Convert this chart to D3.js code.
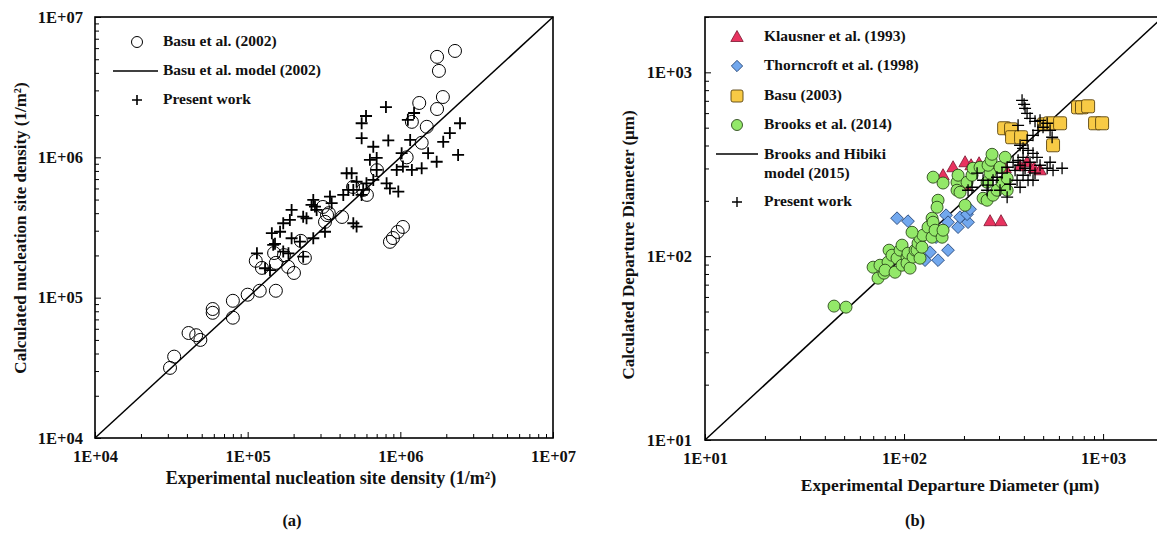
<!DOCTYPE html>
<html>
<head>
<meta charset="utf-8">
<script src="https://cdn.jsdelivr.net/npm/d3@7"></script>
<style>
body { margin: 0; background: #fff; }
svg { display: block; font-family: "Liberation Serif", serif; font-weight: bold; }
</style>
</head>
<body>
<svg id="chart" width="1157" height="534"></svg>
<script>
// ---- (a) nucleation site density, [experimental, calculated] in 1/m2
const basu2002 = [
  [3.1e4, 3.16e4], [3.3e4, 3.8e4], [4.1e4, 5.6e4], [4.6e4, 5.4e4], [4.9e4, 5.0e4],
  [5.9e4, 8.3e4], [5.9e4, 7.8e4], [8.0e4, 9.5e4], [8.0e4, 7.2e4], [1.0e5, 1.05e5],
  [1.2e5, 1.12e5], [1.53e5, 1.12e5], [1.13e5, 1.83e5], [1.24e5, 1.63e5], [1.49e5, 2.08e5],
  [1.53e5, 1.77e5], [1.73e5, 2.01e5], [1.84e5, 1.66e5], [2.01e5, 1.5e5], [2.23e5, 2.54e5],
  [2.37e5, 1.92e5], [3.11e5, 4.43e5], [3.31e5, 3.88e5], [4.15e5, 3.76e5], [3.21e5, 3.47e5],
  [4.9e5, 6.15e5], [6.04e5, 5.4e5], [7.03e5, 8.1e5], [1.1e6, 1.0e6], [1.19e6, 1.79e6],
  [1.49e6, 1.65e6], [1.38e6, 1.27e6], [8.95e5, 2.66e5], [9.6e5, 2.94e5], [1.04e6, 3.19e5],
  [8.55e5, 2.5e5], [1.74e6, 5.2e6], [2.28e6, 5.73e6], [1.79e6, 4.13e6], [1.9e6, 2.69e6],
  [1.74e6, 2.21e6], [1.33e6, 2.44e6], [5.7e5, 5.86e5], [3.4e5, 4.0e5]
];
const presentA = [
  [5.58e5, 1.75e6], [5.58e5, 1.37e6], [6.65e5, 1.19e6], [8.34e5, 1.32e6], [1.16e6, 1.33e6],
  [1.02e6, 1.07e6], [6.32e5, 9.6e5], [7.0e5, 9.9e5], [7.0e5, 8.13e5], [4.45e5, 7.7e5],
  [4.8e5, 7.7e5], [5.17e5, 6.7e5], [6.0e5, 6.53e5], [6.65e5, 6.9e5], [8.13e5, 6.53e5],
  [9.47e5, 8.13e5], [1.04e6, 8.6e5], [1.19e6, 8.13e5], [1.38e6, 8.35e5], [1.52e6, 1.07e6],
  [1.91e6, 1.29e6], [2.11e6, 1.49e6], [2.46e6, 1.75e6], [2.39e6, 1.04e6], [1.73e6, 9.3e5],
  [8.55e5, 6.0e5], [9.7e5, 5.7e5], [4.56e5, 5.86e5], [4.92e5, 5.86e5], [5.71e5, 5.86e5],
  [5.58e5, 5.4e5], [4.23e5, 5.4e5], [3.46e5, 5.25e5], [3.55e5, 4.71e5], [2.69e5, 4.97e5],
  [2.76e5, 4.46e5], [2.62e5, 4.58e5], [2.83e5, 4.22e5], [1.94e5, 4.22e5], [1.89e5, 3.58e5],
  [2.31e5, 3.78e5], [2.43e5, 3.68e5], [1.71e5, 3.39e5], [1.63e5, 2.95e5], [1.44e5, 2.88e5],
  [1.47e5, 2.38e5], [1.94e5, 2.65e5], [1.71e5, 2.13e5], [2.2e5, 2.51e5], [2.31e5, 1.96e5],
  [1.85e5, 2.07e5], [1.15e5, 2.07e5], [1.3e5, 1.62e5], [1.4e5, 1.57e5], [2.69e5, 2.65e5],
  [3.21e5, 2.95e5], [4.92e5, 3.39e5], [5.17e5, 3.21e5], [8.05e5, 2.28e6], [5.96e5, 1.97e6],
  [1.12e6, 1.85e6], [1.23e6, 2.07e6], [1.51e5, 2.42e5]
];
const modelA = [[1e4, 1e4], [1e7, 1e7]];

// ---- (b) departure diameter, [experimental, calculated] in um
const klausner1993 = [
  [157.0, 275.6], [176.3, 304.6], [202.6, 324.3], [217.2, 312.3], [238.2, 320.2],
  [286.6, 312.3], [322.1, 300.8], [270.5, 155.0], [307.0, 155.0], [382.8, 308.4],
  [415.0, 324.3], [449.9, 300.8], [482.2, 293.2], [202.6, 243.2]
];
const thorncroft1998 = [
  [92.2, 160.9], [104.7, 155.0], [162.6, 167.0], [166.3, 153.0], [186.8, 143.8],
  [191.1, 162.9], [209.7, 153.0], [207.3, 169.1], [135.1, 105.1], [148.2, 95.1],
  [166.3, 107.8], [127.5, 95.1], [144.8, 126.8], [214.6, 180.0]
];
const basu2003 = [
  [318.4, 496.5], [345.0, 489.8], [349.0, 443.6], [387.3, 443.6], [505.4, 521.6],
  [541.6, 528.4], [608.1, 528.4], [560.6, 401.1], [748.2, 645.4], [783.6, 645.4],
  [840.9, 653.6], [911.5, 528.4], [988.6, 528.4]
];
const brooks2014 = [
  [44.5, 53.5], [51.1, 52.8], [69.9, 87.1], [74.0, 75.9], [79.3, 80.8], [75.7, 89.3],
  [83.1, 92.8], [80.3, 83.9], [84.1, 107.8], [87.0, 101.2], [90.1, 81.8], [92.2, 97.5],
  [95.5, 107.8], [97.7, 114.8], [97.7, 89.3], [103.5, 98.8], [103.5, 91.6], [104.7, 103.8],
  [107.2, 86.1], [111.0, 98.8], [113.6, 107.8], [116.2, 107.8], [117.6, 117.7], [120.3, 125.3],
  [120.3, 97.5], [123.1, 111.9], [124.5, 130.0], [132.0, 143.8], [138.3, 160.9], [138.3, 126.8],
  [139.9, 153.0], [143.2, 138.4], [148.2, 201.5], [146.5, 184.6], [155.3, 126.8], [157.0, 138.4],
  [184.6, 252.5], [186.8, 275.6], [184.6, 228.4], [191.1, 222.8], [202.6, 189.2], [207.3, 252.5],
  [219.6, 275.6], [222.3, 300.8], [240.9, 304.6], [249.5, 206.6], [261.4, 201.5], [261.4, 252.5],
  [270.5, 282.7], [264.3, 312.3], [273.6, 332.3], [276.8, 358.3], [280.0, 214.6], [293.2, 228.4],
  [303.5, 304.6], [310.6, 252.5], [322.1, 345.1], [329.6, 265.5], [329.6, 228.4], [109.7, 134.9],
  [140.0, 269.0], [157.0, 250.0]
];
const presentB = [
  [391.7, 704.3], [400.9, 669.9], [405.5, 637.2], [415.0, 598.8], [429.6, 562.3], [455.1, 541.6],
  [482.2, 548.1], [499.3, 502.6], [523.6, 528.4], [541.6, 483.6], [471.3, 483.6], [444.6, 454.6],
  [374.1, 515.2], [415.0, 426.6], [382.8, 401.1], [396.3, 386.2], [419.8, 376.6], [444.6, 362.8],
  [465.6, 345.1], [396.3, 345.1], [374.1, 332.3], [353.2, 324.3], [382.8, 312.3], [405.5, 300.8],
  [429.6, 293.2], [482.2, 312.3], [541.6, 324.3], [560.6, 293.2], [396.3, 275.6], [369.8, 258.8],
  [382.8, 237.1], [329.6, 304.6], [310.6, 282.7], [293.2, 268.8], [280.0, 258.8], [264.3, 243.2],
  [249.5, 258.8], [261.4, 228.4], [232.8, 282.7], [219.6, 237.1], [303.5, 228.4], [329.6, 209.3],
  [419.8, 258.8], [444.6, 258.8], [429.6, 324.3], [523.6, 300.8], [455.1, 282.7], [554.5, 443.6],
  [209.7, 228.4], [341.0, 246.2], [361.3, 293.2], [622.3, 300.8]
];
const modelB = [[10, 10], [2000, 2000]];

const svg = d3.select("#chart");

function fmt(d) {
  const e = Math.round(Math.log10(d));
  return "1E+" + (e < 10 ? "0" : "") + e;
}

function majorTicks(lo, hi) {
  const out = [];
  for (let v = lo; v <= hi * 1.0001; v *= 10) out.push(v);
  return out;
}
function minorTicks(lo, hi) {
  const out = [];
  for (let v = lo; v < hi; v *= 10)
    for (let k = 2; k <= 9; k++) if (v * k <= hi) out.push(v * k);
  return out;
}

function drawFrame(opt) {
  const x = d3.scaleLog().domain(opt.xDomain).range([opt.left, opt.right]);
  const y = d3.scaleLog().domain(opt.yDomain).range([opt.bottom, opt.top]);
  const g = svg.append("g");

  g.append("rect")
    .attr("x", opt.left).attr("y", opt.top)
    .attr("width", opt.right - opt.left).attr("height", opt.bottom - opt.top)
    .attr("fill", "none").attr("stroke", "#000").attr("stroke-width", 1.6);

  // x ticks (inward)
  g.append("g").attr("transform", "translate(0," + opt.bottom + ")")
    .call(d3.axisBottom(x).tickValues(minorTicks(opt.xDomain[0], opt.xDomain[1]))
      .tickFormat("").tickSizeInner(-4).tickSizeOuter(0))
    .call(a => a.select(".domain").remove());
  g.append("g").attr("transform", "translate(0," + opt.bottom + ")")
    .call(d3.axisBottom(x).tickValues(opt.xLabels)
      .tickFormat(fmt).tickSizeInner(-6).tickSizeOuter(0).tickPadding(opt.xPad))
    .call(a => a.select(".domain").remove())
    .call(a => a.selectAll("text").attr("font-size", 16.5).attr("fill", "#111")
      .attr("font-family", "Liberation Serif").attr("font-weight", "bold"));

  // y ticks (inward)
  g.append("g").attr("transform", "translate(" + opt.left + ",0)")
    .call(d3.axisLeft(y).tickValues(minorTicks(opt.yDomain[0], opt.yDomain[1]))
      .tickFormat("").tickSizeInner(-4).tickSizeOuter(0))
    .call(a => a.select(".domain").remove());
  g.append("g").attr("transform", "translate(" + opt.left + ",0)")
    .call(d3.axisLeft(y).tickValues(opt.yLabels)
      .tickFormat(fmt).tickSizeInner(-6).tickSizeOuter(0).tickPadding(opt.yPad))
    .call(a => a.select(".domain").remove())
    .call(a => a.selectAll("text").attr("font-size", 16.5).attr("fill", "#111")
      .attr("font-family", "Liberation Serif").attr("font-weight", "bold"));

  g.selectAll(".tick line").attr("stroke", "#000").attr("stroke-width", 1);

  // 1:1 model line
  g.append("path").datum(opt.model)
    .attr("d", d3.line().x(d => x(d[0])).y(d => y(d[1])))
    .attr("fill", "none").attr("stroke", "#000").attr("stroke-width", 1.5);

  return { g, x, y };
}

function label(txt, x, y, size, rot) {
  const t = svg.append("text")
    .attr("text-anchor", "middle").attr("dominant-baseline", "middle")
    .attr("font-size", size).attr("fill", "#111")
    .attr("transform", "translate(" + x + "," + y + ")" + (rot ? " rotate(" + rot + ")" : ""));
  return t.text(txt);
}

const crossPath = s => "M" + (-s) + ",0H" + s + "M0," + (-s) + "V" + s;

// ================= panel (a)
const A = drawFrame({
  xDomain: [1e4, 1e7], yDomain: [1e4, 1e7],
  left: 95, right: 553, top: 17, bottom: 438,
  xLabels: majorTicks(1e4, 1e7), yLabels: majorTicks(1e4, 1e7),
  xPad: 12, yPad: 12, model: modelA
});

A.g.append("g").selectAll("circle").data(basu2002).join("circle")
  .attr("cx", d => A.x(d[0])).attr("cy", d => A.y(d[1])).attr("r", 6.5)
  .attr("fill", "none").attr("stroke", "#000").attr("stroke-width", 1);

A.g.append("g").selectAll("path").data(presentA).join("path")
  .attr("transform", d => "translate(" + A.x(d[0]) + "," + A.y(d[1]) + ")")
  .attr("d", crossPath(6)).attr("stroke", "#000").attr("stroke-width", 1.8);

// legend (a)
const legA = svg.append("g").attr("font-size", 15.5).attr("fill", "#111");
legA.append("circle").attr("cx", 137).attr("cy", 42).attr("r", 5.5)
  .attr("fill", "none").attr("stroke", "#000");
legA.append("line").attr("x1", 113).attr("x2", 158).attr("y1", 71).attr("y2", 71)
  .attr("stroke", "#000").attr("stroke-width", 1.5);
legA.append("path").attr("transform", "translate(137,100)").attr("d", crossPath(5))
  .attr("stroke", "#000").attr("stroke-width", 1.6);
[["Basu et al. (2002)", 42], ["Basu et al. model (2002)", 71], ["Present work", 100]]
  .forEach(([t, yy]) => legA.append("text").attr("x", 163).attr("y", yy)
    .attr("dominant-baseline", "middle").text(t));

label("Experimental nucleation site density  (1/m²)", 331, 480, 18);
label("Calculated nucleation site density  (1/m²)", 22, 228, 17, -90);
label("(a)", 292, 522, 16.5);

// ================= panel (b)
const B = drawFrame({
  xDomain: [10, 2000], yDomain: [10, 2000],
  left: 705, right: 1163, top: 17, bottom: 440,
  xLabels: [10, 100, 1000], yLabels: [10, 100, 1000],
  xPad: 12, yPad: 13, model: modelB
});

const triPath = "M0,-6.5L6.2,4.5L-6.2,4.5Z";

B.g.append("g").selectAll("path").data(klausner1993).join("path")
  .attr("transform", d => "translate(" + B.x(d[0]) + "," + B.y(d[1]) + ")")
  .attr("d", triPath).attr("fill", "#e8335f").attr("stroke", "#7a1530").attr("stroke-width", 0.8);

B.g.append("g").selectAll("rect").data(thorncroft1998).join("rect")
  .attr("transform", d => "translate(" + B.x(d[0]) + "," + B.y(d[1]) + ") rotate(45)")
  .attr("x", -4.5).attr("y", -4.5).attr("width", 9).attr("height", 9)
  .attr("fill", "#72a8ee").attr("stroke", "#1f3f70").attr("stroke-width", 0.8);

B.g.append("g").selectAll("rect").data(basu2003).join("rect")
  .attr("transform", d => "translate(" + B.x(d[0]) + "," + B.y(d[1]) + ")")
  .attr("x", -6.5).attr("y", -6.5).attr("width", 13).attr("height", 13).attr("rx", 2)
  .attr("fill", "#f8ca45").attr("stroke", "#5a4410").attr("stroke-width", 0.9);

B.g.append("g").selectAll("circle").data(brooks2014).join("circle")
  .attr("cx", d => B.x(d[0])).attr("cy", d => B.y(d[1])).attr("r", 6)
  .attr("fill", "#93e869").attr("stroke", "#2c4a1c").attr("stroke-width", 0.9);

B.g.append("g").selectAll("path").data(presentB).join("path")
  .attr("transform", d => "translate(" + B.x(d[0]) + "," + B.y(d[1]) + ")")
  .attr("d", crossPath(6)).attr("stroke", "#000").attr("stroke-width", 1.3);

// legend (b)
const legB = svg.append("g").attr("font-size", 15.5).attr("fill", "#111");
legB.append("path").attr("transform", "translate(737,37)").attr("d", triPath)
  .attr("fill", "#e8335f").attr("stroke", "#7a1530").attr("stroke-width", 0.8);
legB.append("rect").attr("transform", "translate(737,66) rotate(45)")
  .attr("x", -4).attr("y", -4).attr("width", 8).attr("height", 8)
  .attr("fill", "#72a8ee").attr("stroke", "#1f3f70").attr("stroke-width", 0.8);
legB.append("rect").attr("x", 731).attr("y", 90).attr("width", 12).attr("height", 12).attr("rx", 2)
  .attr("fill", "#f8ca45").attr("stroke", "#5a4410").attr("stroke-width", 0.9);
legB.append("circle").attr("cx", 737).attr("cy", 125).attr("r", 5.5)
  .attr("fill", "#93e869").attr("stroke", "#2c4a1c").attr("stroke-width", 0.9);
legB.append("line").attr("x1", 716).attr("x2", 758).attr("y1", 154).attr("y2", 154)
  .attr("stroke", "#000").attr("stroke-width", 1.5);
legB.append("path").attr("transform", "translate(737,202)").attr("d", crossPath(5))
  .attr("stroke", "#000").attr("stroke-width", 1.4);
[["Klausner et al. (1993)", 37], ["Thorncroft et al. (1998)", 66], ["Basu (2003)", 96],
 ["Brooks et al. (2014)", 125], ["Brooks and Hibiki", 155], ["model (2015)", 174], ["Present work", 202]]
  .forEach(([t, yy]) => legB.append("text").attr("x", 764).attr("y", yy)
    .attr("dominant-baseline", "middle").text(t));

label("Experimental Departure Diameter (μm)", 950, 487, 17.5);
label("Calculated  Departure Diameter (μm)", 630, 245, 17, -90);
label("(b)", 915, 522, 16.5);
</script>
</body>
</html>
